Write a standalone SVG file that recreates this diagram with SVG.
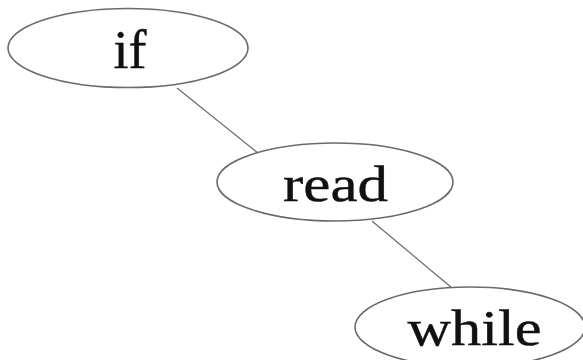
<svg xmlns="http://www.w3.org/2000/svg" width="583" height="360" viewBox="0 0 583 360">
<style>
.node ellipse{fill:#fff;stroke:#6a6a6a;stroke-width:1.6}
.node text{font-family:"Liberation Serif","Times New Roman",serif;font-size:51px;fill:#111;stroke:#111;stroke-width:0.4;text-anchor:middle}
.edges line{stroke:#6a6a6a;stroke-width:1.2}
</style>
<rect width="583" height="360" fill="#fff"/>
<g class="edges">
<line x1="177" y1="88" x2="258" y2="153"/>
<line x1="372" y1="221" x2="452" y2="288"/>
</g>
<g id="node-if" class="node">
<ellipse cx="128" cy="48" rx="120" ry="39.5"/>
<text x="130" y="68" style="font-size:54px">if</text>
</g>
<g id="node-read" class="node">
<ellipse cx="335" cy="182" rx="118" ry="39"/>
<text x="335.5" y="201" textLength="105" lengthAdjust="spacingAndGlyphs">read</text>
</g>
<g id="node-while" class="node">
<ellipse cx="470" cy="327" rx="115" ry="40"/>
<text x="474.5" y="345" textLength="134" lengthAdjust="spacingAndGlyphs">while</text>
</g>
</svg>
